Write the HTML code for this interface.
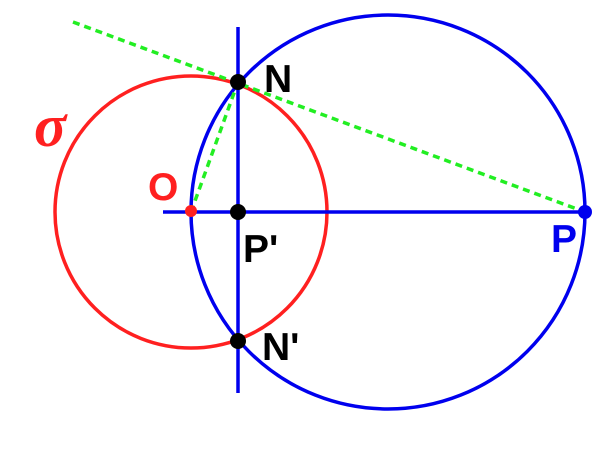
<!DOCTYPE html>
<html><head><style>body{margin:0;background:#fff}</style></head><body>
<svg width="600" height="450" xmlns="http://www.w3.org/2000/svg">
<circle cx="191" cy="212" r="136" fill="none" stroke="#ff2020" stroke-width="3.5"/>
<circle cx="388" cy="212" r="197" fill="none" stroke="#0000ee" stroke-width="3.5"/>
<line x1="238" y1="27" x2="238" y2="393" stroke="#0000ee" stroke-width="3.5"/>
<line x1="163" y1="212" x2="585" y2="212" stroke="#0000ee" stroke-width="3.5"/>
<line x1="73" y1="22" x2="585" y2="212" stroke="#22ee22" stroke-width="3.5" stroke-dasharray="7,5"/>
<line x1="191" y1="212" x2="238" y2="82" stroke="#22ee22" stroke-width="3.5" stroke-dasharray="7,5"/>
<circle cx="191" cy="211" r="6" fill="#ff2020"/>
<circle cx="585" cy="212" r="7" fill="#0000ee"/>
<circle cx="238" cy="82" r="8" fill="#000"/>
<circle cx="238" cy="212" r="8" fill="#000"/>
<circle cx="238" cy="341" r="8" fill="#000"/>
<g font-family="Liberation Sans, sans-serif" font-weight="bold" font-size="39">
<text x="264" y="92" fill="#000">N</text>
<text x="148" y="200" fill="#ff2020">O</text>
<text x="243" y="262" fill="#000">P'</text>
<text x="551" y="252" fill="#0000ee">P</text>
<text x="262" y="360" fill="#000">N'</text>
</g>
<text x="34" y="146" font-family="Liberation Serif, serif" font-style="italic" font-weight="bold" font-size="60" fill="#ff2020">σ</text>
</svg>
</body></html>
